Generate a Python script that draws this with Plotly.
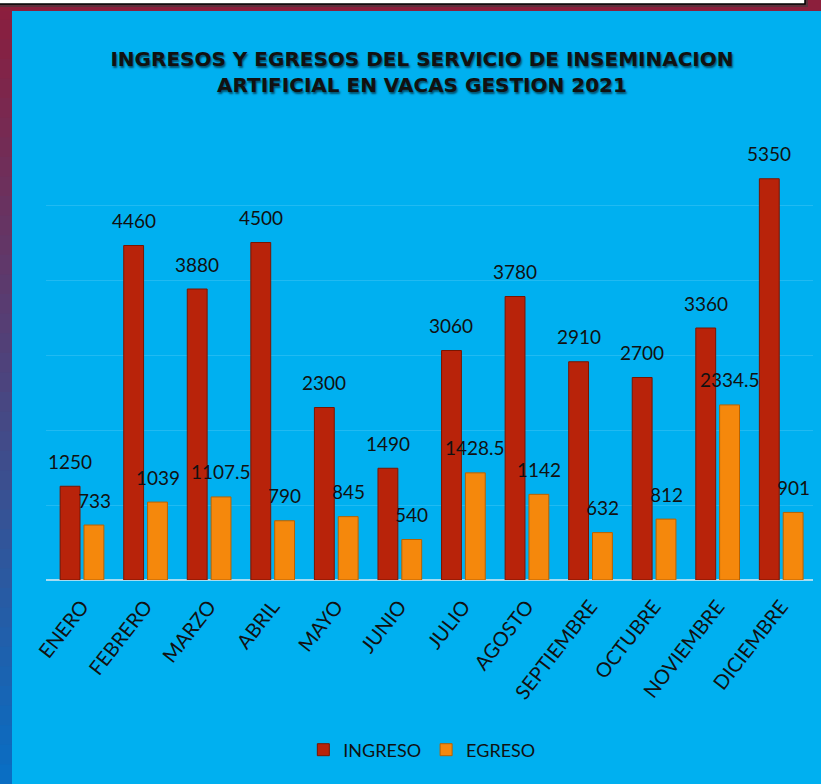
import plotly.graph_objects as go

months = ["ENERO", "FEBRERO", "MARZO", "ABRIL", "MAYO", "JUNIO", "JULIO",
          "AGOSTO", "SEPTIEMBRE", "OCTUBRE", "NOVIEMBRE", "DICIEMBRE"]
ingreso = [1250, 4460, 3880, 4500, 2300, 1490, 3060, 3780, 2910, 2700, 3360, 5350]
egreso = [733, 1039, 1107.5, 790, 845, 540, 1428.5, 1142, 632, 812, 2334.5, 901]

W, H = 821, 784
L, R, T, B = 46, 8, 130, 204
PW, PH = W - L - R, H - T - B


def px_x(px):
    return (px - L) / PW


def px_y(py):
    return (H - B - py) / PH


fig = go.Figure()
fig.add_trace(go.Bar(
    x=months, y=ingreso, name="INGRESO",
    marker=dict(color="#b8230a", line=dict(color="#7a1500", width=1)),
))
fig.add_trace(go.Bar(
    x=months, y=egreso, name="EGRESO",
    marker=dict(color="#f5880c", line=dict(color="#b86200", width=1)),
))

annotations = []
for m, v in zip(months, ingreso):
    annotations.append(dict(x=m, y=v, text=f"{v:g}", showarrow=False, xshift=-12,
                            yshift=25, font=dict(size=19, color="#111111", family="Lato")))
for m, v in zip(months, egreso):
    annotations.append(dict(x=m, y=v, text=f"{v:g}", showarrow=False, xshift=12,
                            yshift=25, font=dict(size=19, color="#111111", family="Lato")))

shapes = []
# left gradient strip (red top -> blue bottom)
n = 40
c0 = (139, 30, 62)
c1 = (10, 110, 195)
for i in range(n):
    t = i / (n - 1)
    col = tuple(int(c0[k] + (c1[k] - c0[k]) * t) for k in range(3))
    y0 = i * H / n
    y1 = (i + 1) * H / n + 1
    shapes.append(dict(type="rect", xref="paper", yref="paper",
                       x0=px_x(-2), x1=px_x(12), y0=px_y(y0), y1=px_y(y1),
                       fillcolor=f"rgb{col}", line=dict(width=0), layer="below"))
# top red strip
shapes.append(dict(type="rect", xref="paper", yref="paper",
                   x0=px_x(-2), x1=px_x(W + 2), y0=px_y(-2), y1=px_y(11),
                   fillcolor="#8c1f3c", line=dict(width=0), layer="below"))
# white box at top with shadow
shapes.append(dict(type="rect", xref="paper", yref="paper",
                   x0=px_x(-2), x1=px_x(808), y0=px_y(-3), y1=px_y(7),
                   fillcolor="rgba(60,60,60,0.6)", line=dict(width=0), layer="below"))
shapes.append(dict(type="rect", xref="paper", yref="paper",
                   x0=px_x(-2), x1=px_x(805), y0=px_y(-3), y1=px_y(4),
                   fillcolor="#ffffff", line=dict(color="#000000", width=1.5), layer="below"))

fig.update_layout(
    width=W, height=H,
    margin=dict(l=L, r=R, t=T, b=B),
    paper_bgcolor="#00b0f0",
    plot_bgcolor="#00b0f0",
    barmode="group",
    bargap=0.25,
    bargroupgap=0.167,
    title=dict(
        text="INGRESOS Y EGRESOS DEL SERVICIO DE INSEMINACION<br>ARTIFICIAL EN VACAS GESTION 2021",
        x=0.514, xanchor="center", y=1 - 66 / H, yanchor="middle", yref="container",
        font=dict(family="DejaVu Sans", size=20, color="#111111", weight="bold",
                  shadow="1px 2px 2px rgba(0,0,0,0.55)"),
    ),
    xaxis=dict(
        tickangle=-52, tickfont=dict(family="Lato", size=20, color="#111111"),
        showgrid=False, showline=False, ticks="outside", ticklen=6, tickcolor="rgba(0,0,0,0)",
        zeroline=False,
    ),
    yaxis=dict(
        range=[0, 6000], dtick=1000, showticklabels=False,
        showgrid=True, gridcolor="rgba(255,255,255,0.13)", gridwidth=1,
        zeroline=True, zerolinecolor="#a6dcf2", zerolinewidth=2,
    ),
    legend=dict(
        orientation="h", x=0.49, xanchor="center", y=px_y(750), yanchor="middle",
        font=dict(family="Lato", size=18, color="#111111"),
        itemwidth=30, bgcolor="rgba(0,0,0,0)",
    ),
    showlegend=True,
    annotations=annotations,
    shapes=shapes,
)

fig.write_html("out.html", config={"displayModeBar": False},
               post_script="document.body.style.margin='0';")
